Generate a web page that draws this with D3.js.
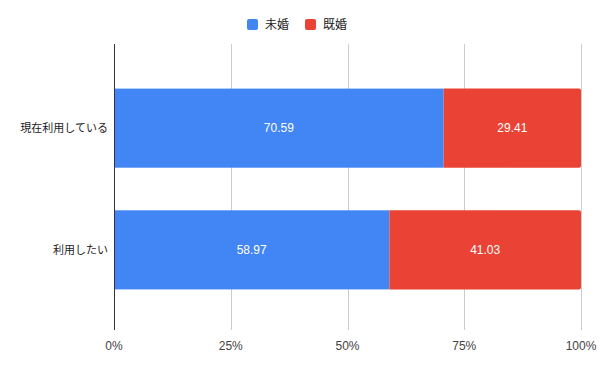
<!DOCTYPE html>
<html>
<head>
<meta charset="utf-8">
<script src="https://cdn.jsdelivr.net/npm/d3@7"></script>
<style>
  body { margin: 0; background: #fff; }
  text { font-family: Arial, "Liberation Sans", "Noto Sans CJK JP", sans-serif; }
</style>
</head>
<body>
<svg id="chart" width="600" height="371"></svg>
<script>
const categories = ["現在利用している", "利用したい"];
const seriesNames = ["未婚", "既婚"];
const unmarried = [70.59, 58.97];
const married = [29.41, 41.03];
const tickLabels = ["0%", "25%", "50%", "75%", "100%"];
const colors = ["#4285f4", "#ea4335"];

const svg = d3.select("#chart");
const plotLeft = 114, plotRight = 581, plotTop = 44, plotBottom = 330;

// x scale in percent
const x = d3.scaleLinear().domain([0, 100]).range([plotLeft, plotRight]);

const y = d3
  .scaleBand()
  .domain(categories)
  .range([plotTop + 2, plotBottom + 2])
  .paddingInner(0.35)
  .paddingOuter(0.35);

// gridlines
svg
  .append("g")
  .selectAll("line")
  .data([25, 50, 75, 100])
  .enter()
  .append("line")
  .attr("x1", (d) => Math.round(x(d)) + 0.5)
  .attr("x2", (d) => Math.round(x(d)) + 0.5)
  .attr("y1", plotTop)
  .attr("y2", plotBottom)
  .attr("stroke", "#cccccc")
  .attr("stroke-width", 1);

// stack data
const rows = categories.map((c, i) => ({ cat: c, values: [unmarried[i], married[i]] }));

rows.forEach((r) => {
  let x0 = 0;
  r.values.forEach((v, j) => {
    const x1 = x0 + v;
    const isLast = j === r.values.length - 1;
    const bx = x(x0), bw = x(x1) - x(x0);
    const by = y(r.cat), bh = y.bandwidth();
    if (isLast) {
      // rounded right end
      const rad = 2;
      svg
        .append("path")
        .attr(
          "d",
          `M${bx},${by}H${bx + bw - rad}Q${bx + bw},${by} ${bx + bw},${by + rad}` +
            `V${by + bh - rad}Q${bx + bw},${by + bh} ${bx + bw - rad},${by + bh}H${bx}Z`
        )
        .attr("fill", colors[j]);
    } else {
      svg
        .append("rect")
        .attr("x", bx)
        .attr("y", by)
        .attr("width", bw)
        .attr("height", bh)
        .attr("fill", colors[j]);
    }
    svg
      .append("text")
      .attr("x", x((x0 + x1) / 2))
      .attr("y", by + bh / 2)
      .attr("dy", "0.35em")
      .attr("text-anchor", "middle")
      .attr("fill", "#ffffff")
      .style("font-size", "12px")
      .text(v.toFixed(2));
    x0 = x1;
  });
});

// baseline axis
svg
  .append("line")
  .attr("x1", plotLeft + 0.5)
  .attr("x2", plotLeft + 0.5)
  .attr("y1", plotTop)
  .attr("y2", plotBottom)
  .attr("stroke", "#333333")
  .attr("stroke-width", 1);

// x tick labels
svg
  .append("g")
  .selectAll("text")
  .data(tickLabels)
  .enter()
  .append("text")
  .attr("x", (d, i) => x(i * 25))
  .attr("y", 350)
  .attr("text-anchor", "middle")
  .attr("fill", "#444444")
  .style("font-size", "12px")
  .text((d) => d);

// category labels
svg
  .append("g")
  .selectAll("text")
  .data(categories)
  .enter()
  .append("text")
  .attr("x", plotLeft - 6)
  .attr("y", (d) => y(d) + y.bandwidth() / 2)
  .attr("dy", "0.35em")
  .attr("text-anchor", "end")
  .attr("fill", "#222222")
  .style("font-size", "11px")
  .text((d) => d);

// legend
const legend = svg.append("g");
const legendX = [247, 305];
seriesNames.forEach((name, i) => {
  legend
    .append("rect")
    .attr("x", legendX[i])
    .attr("y", 19)
    .attr("width", 11)
    .attr("height", 11)
    .attr("rx", 2)
    .attr("fill", colors[i]);
  legend
    .append("text")
    .attr("x", legendX[i] + 18)
    .attr("y", 25)
    .attr("dy", "0.35em")
    .attr("fill", "#222222")
    .style("font-size", "12px")
    .text(name);
});
</script>
</body>
</html>
